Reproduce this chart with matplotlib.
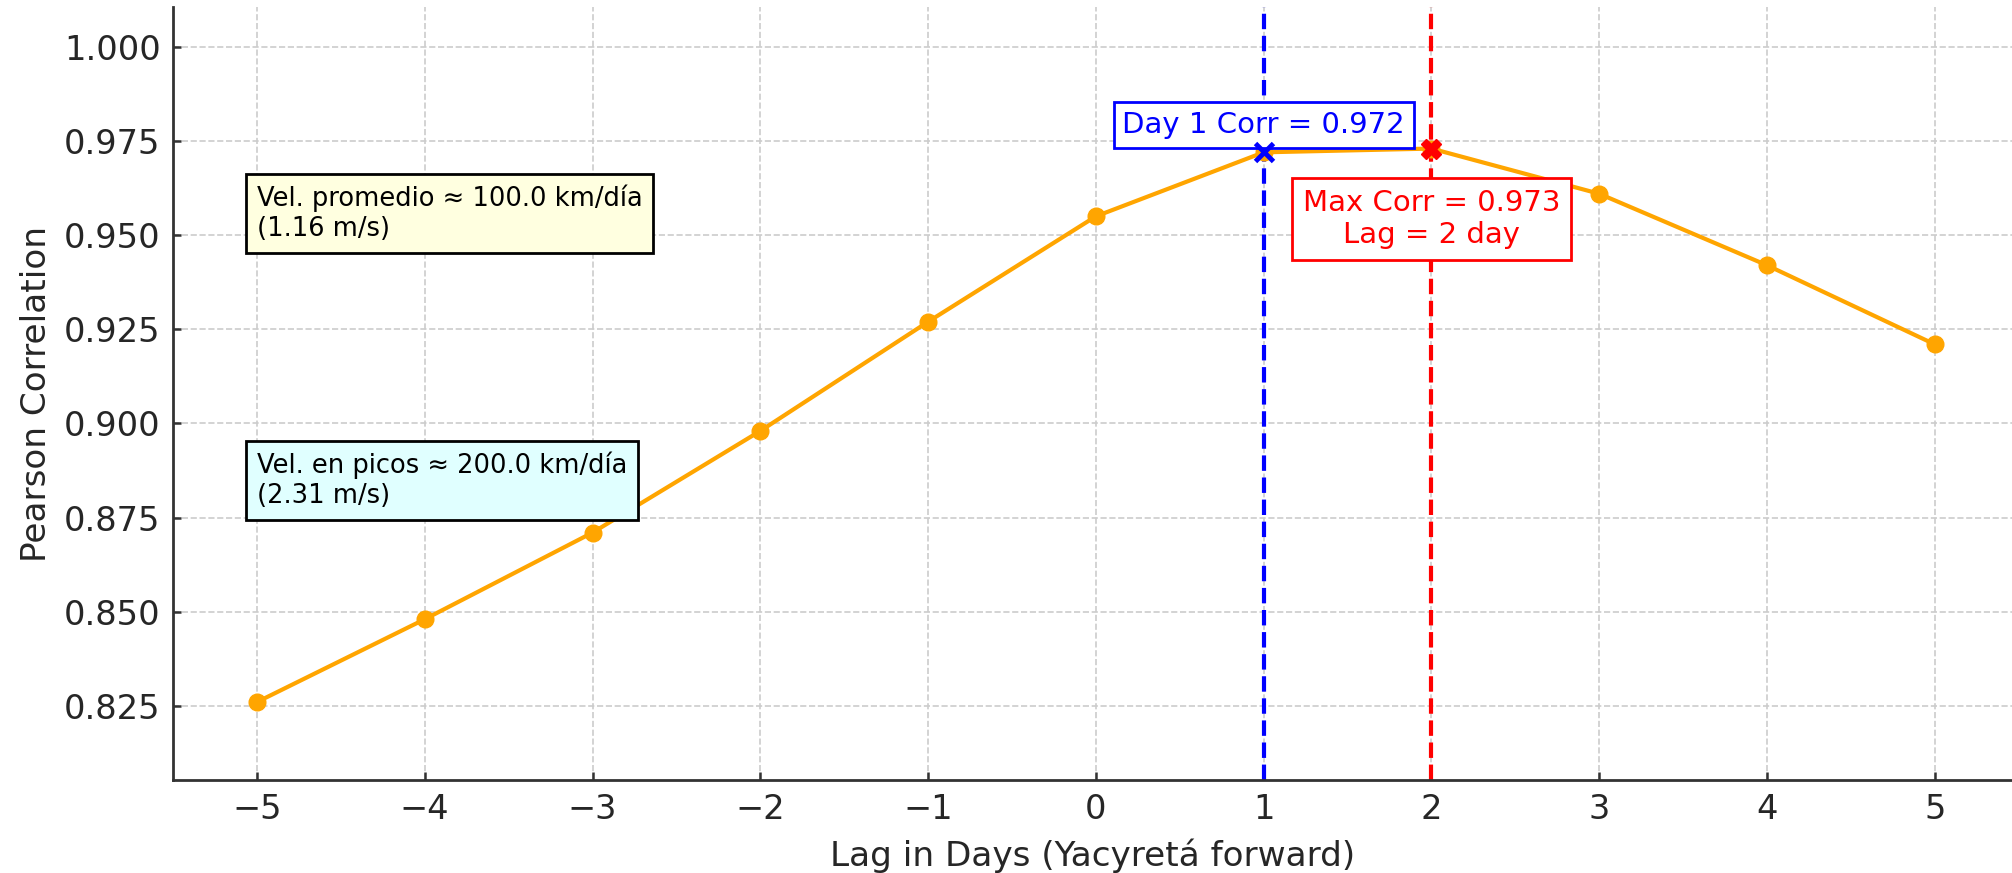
"""Cross-correlation between stations by lag (Yacyretá forward)."""

import matplotlib

matplotlib.use("Agg")
import matplotlib.pyplot as plt

LAGS = [-5, -4, -3, -2, -1, 0, 1, 2, 3, 4, 5]
CORR = [0.826, 0.848, 0.871, 0.898, 0.927, 0.955, 0.972, 0.973, 0.961, 0.942, 0.921]

DAY1_LAG = 1
DAY1_CORR = 0.972
MAX_LAG = 2
MAX_CORR = 0.973

VEL_MEAN_TEXT = "Vel. promedio \u2248 100.0 km/día\n(1.16 m/s)"
VEL_PEAK_TEXT = "Vel. en picos \u2248 200.0 km/día\n(2.31 m/s)"

TEXT_COLOR = "#262626"
SPINE_COLOR = "#333333"


def main() -> None:
    plt.rcParams["font.family"] = ["DejaVu Sans"]

    fig = plt.figure(figsize=(20.12, 8.73), dpi=100)
    ax = fig.add_axes([0.086, 0.1065, 0.914, 0.8855])

    ax.grid(True, linestyle="--", color="#cccccc", linewidth=1.2, zorder=0)
    ax.set_axisbelow(True)

    ax.plot(LAGS, CORR, color="orange", linewidth=3, marker="o", markersize=12, zorder=2)

    ax.axvline(DAY1_LAG, color="blue", linestyle="--", linewidth=3, zorder=1.5)
    ax.axvline(MAX_LAG, color="red", linestyle="--", linewidth=3, zorder=1.5)

    ax.plot([DAY1_LAG], [DAY1_CORR], marker="x", color="blue", markersize=13,
            markeredgewidth=3.5, linestyle="none", zorder=5)
    ax.plot([MAX_LAG], [MAX_CORR], marker="X", color="red", markersize=14,
            linestyle="none", zorder=5)

    ax.text(DAY1_LAG, DAY1_CORR + 0.0072, f"Day 1 Corr = {DAY1_CORR:.3f}",
            color="blue", fontsize=21, ha="center", va="center", zorder=4,
            bbox=dict(boxstyle="square,pad=0.3", facecolor="white", edgecolor="blue", linewidth=2))
    ax.text(MAX_LAG, MAX_CORR - 0.0187, f"Max Corr = {MAX_CORR:.3f}\nLag = {MAX_LAG} day",
            color="red", fontsize=21, ha="center", va="center", multialignment="center", zorder=4,
            bbox=dict(boxstyle="square,pad=0.38", facecolor="white", edgecolor="red", linewidth=2))

    ax.text(-5.0, 0.9557, VEL_MEAN_TEXT, color="black", fontsize=18.5, ha="left", va="center", zorder=4,
            bbox=dict(boxstyle="square,pad=0.42", facecolor="lightyellow", edgecolor="black", linewidth=2))
    ax.text(-5.0, 0.8849, VEL_PEAK_TEXT, color="black", fontsize=18.5, ha="left", va="center", zorder=4,
            bbox=dict(boxstyle="square,pad=0.42", facecolor="lightcyan", edgecolor="black", linewidth=2))

    ax.set_xlim(-5.5, 5.46)
    ax.set_ylim(0.8053, 1.0106)
    ax.set_xticks(LAGS)
    ax.set_yticks([0.825, 0.850, 0.875, 0.900, 0.925, 0.950, 0.975, 1.000])
    ax.yaxis.set_major_formatter(matplotlib.ticker.FormatStrFormatter("%.3f"))

    ax.set_xlabel("Lag in Days (Yacyretá forward)", fontsize=24.7, color=TEXT_COLOR, labelpad=9)
    ax.set_ylabel("Pearson Correlation", fontsize=24.7, color=TEXT_COLOR, labelpad=8)

    ax.tick_params(axis="both", direction="in", length=6, width=1.8, color=SPINE_COLOR,
                   labelsize=24.2, labelcolor=TEXT_COLOR, pad=9)

    for side in ["top", "right"]:
        ax.spines[side].set_visible(False)
    for side in ["left", "bottom"]:
        ax.spines[side].set_color(SPINE_COLOR)
        ax.spines[side].set_linewidth(2)

    fig.savefig("out.png", dpi=100)
    plt.close(fig)


if __name__ == "__main__":
    main()
